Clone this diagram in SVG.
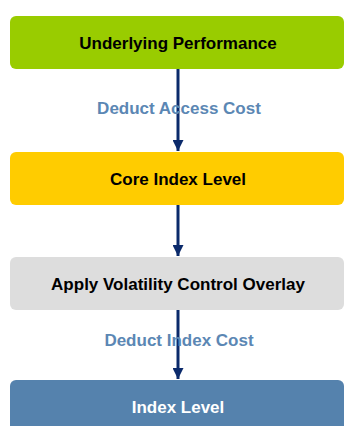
<svg xmlns="http://www.w3.org/2000/svg" width="344" height="426" viewBox="0 0 344 426">
<style>
.box{stroke:none}
.t{font-family:"Liberation Sans",Arial,sans-serif;font-weight:bold;font-size:17px;text-anchor:middle}
.lbl{font-family:"Liberation Sans",Arial,sans-serif;font-weight:bold;font-size:17px;text-anchor:middle;fill:#5B87B4}
.c{stroke:#0B2A6B;stroke-width:3;fill:none}
</style>
<defs>
<marker id="ah" markerWidth="12" markerHeight="11" refX="11" refY="5.5" orient="auto" markerUnits="userSpaceOnUse">
<path d="M0,0 L11,5.5 L0,11 Z" fill="#0B2A6B"/>
</marker>
</defs>
<g id="connectors">
<line class="c" x1="178" y1="69" x2="178" y2="151" marker-end="url(#ah)"/>
<line class="c" x1="178" y1="205" x2="178" y2="256" marker-end="url(#ah)"/>
<line class="c" x1="178" y1="310" x2="178" y2="379" marker-end="url(#ah)"/>
</g>
<g id="n1"><rect class="box" x="10" y="16" width="334" height="53" rx="6" fill="#99CC00"/><text class="t" x="178" y="49">Underlying Performance</text></g>
<g id="lbl1"><text class="lbl" x="179" y="114">Deduct Access Cost</text></g>
<g id="n2"><rect class="box" x="10" y="152" width="334" height="53" rx="6" fill="#FFCC00"/><text class="t" x="178" y="185">Core Index Level</text></g>
<g id="n3"><rect class="box" x="10" y="257" width="334" height="53" rx="6" fill="#DDDDDD"/><text class="t" x="178" y="290">Apply Volatility Control Overlay</text></g>
<g id="lbl2"><text class="lbl" x="179" y="346">Deduct Index Cost</text></g>
<g id="n4"><rect class="box" x="10" y="380" width="334" height="53" rx="6" fill="#5582AD"/><text class="t" x="178" y="413" fill="#FFFFFF">Index Level</text></g>
</svg>
